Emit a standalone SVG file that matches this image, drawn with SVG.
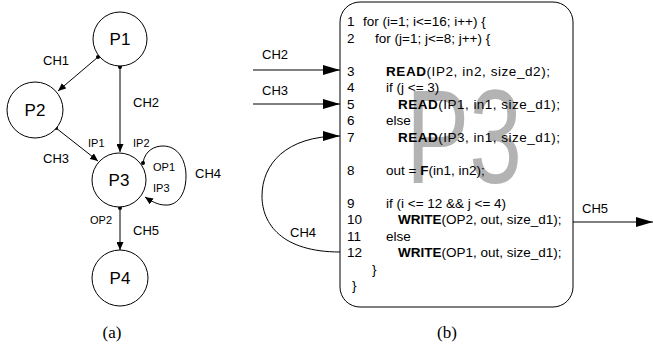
<svg xmlns="http://www.w3.org/2000/svg" width="653" height="350" viewBox="0 0 653 350">
<style>
text{font-family:"Liberation Sans",Arial,sans-serif;fill:#000}
.node{fill:#fff;stroke:#000;stroke-width:1}
.pl{font-size:17px;text-anchor:middle}
.ch{font-size:13px}
.pt{font-size:11px}
.cap{font-family:"Liberation Serif","Times New Roman",serif;font-size:17px;text-anchor:middle}
.code{font-size:13.5px}
.b{font-weight:bold}
.ln{fill:none;stroke:#000;stroke-width:1}
.sa{marker-end:url(#arrS)}
.la{marker-end:url(#arrL)}
</style>
<defs>
<marker id="arrS" markerUnits="userSpaceOnUse" markerWidth="9" markerHeight="7" refX="8" refY="3.5" orient="auto"><path d="M0,0 L8,3.5 L0,7 z" fill="#000"/></marker>
<marker id="arrL" markerUnits="userSpaceOnUse" markerWidth="18" markerHeight="11" refX="17" refY="5" orient="auto"><path d="M0,0 L17,5 L0,10 z" fill="#000"/></marker>
</defs>

<g id="connectors-a">
<path class="ln sa" d="M98,57 L58,91"/>
<path class="ln sa" d="M120,67 L120,152"/>
<path class="ln sa" d="M56,128 L98,161"/>
<path class="ln sa" d="M143,163 C145,150 155,146 163,146 C178,146 186,160 186,176 C186,196 176,206 165,205 C158,205 151,201 145,197"/>
<path class="ln sa" d="M120,208 L120,250"/>
<circle cx="98" cy="57" r="2" fill="#000"/>
<circle cx="120" cy="67" r="2" fill="#000"/>
<circle cx="56" cy="128" r="2" fill="#000"/>
<circle cx="143" cy="163" r="2" fill="#000"/>
<circle cx="120" cy="208" r="2" fill="#000"/>
</g>

<g id="P1"><circle class="node" cx="120" cy="39" r="27"/><text class="pl" x="120" y="45">P1</text></g>
<g id="P2"><circle class="node" cx="35" cy="110" r="28"/><text class="pl" x="35" y="116">P2</text></g>
<g id="P3"><circle class="node" cx="119" cy="180" r="27"/><text class="pl" x="119" y="186">P3</text></g>
<g id="P4"><circle class="node" cx="120" cy="278" r="28"/><text class="pl" x="120" y="284">P4</text></g>

<g id="labels-a">
<text class="ch" x="43" y="65">CH1</text>
<text class="ch" x="133" y="107">CH2</text>
<text class="ch" x="43" y="163">CH3</text>
<text class="ch" x="195" y="178">CH4</text>
<text class="ch" x="133" y="235">CH5</text>
<text class="pt" x="88" y="147">IP1</text>
<text class="pt" x="133" y="147">IP2</text>
<text class="pt" x="153" y="171">OP1</text>
<text class="pt" x="153" y="192">IP3</text>
<text class="pt" x="90" y="224">OP2</text>
<text class="cap" x="112" y="338">(a)</text>
</g>

<g id="process-box">
<rect x="340" y="2" width="233" height="305" rx="20" ry="20" fill="#fff" stroke="#000" stroke-width="1"/>
<text x="406" y="183" font-size="133" textLength="116" lengthAdjust="spacingAndGlyphs" style="fill:#b3b3b3">P3</text>
<g class="code">
<text x="347" y="26">1</text><text x="363" y="26">for (i=1; i&lt;=16; i++) {</text>
<text x="347" y="42.5">2</text><text x="375" y="42.5">for (j=1; j&lt;=8; j++) {</text>
<text x="347" y="75.5">3</text><text x="386" y="75.5" textLength="164" lengthAdjust="spacing"><tspan class="b">READ</tspan>(IP2, in2, size_d2);</text>
<text x="347" y="92">4</text><text x="386" y="92">if (j &lt;= 3)</text>
<text x="347" y="108.5">5</text><text x="398" y="108.5" textLength="162" lengthAdjust="spacing"><tspan class="b">READ</tspan>(IP1, in1, size_d1);</text>
<text x="347" y="125">6</text><text x="386" y="125">else</text>
<text x="347" y="141.5">7</text><text x="398" y="141.5" textLength="162" lengthAdjust="spacing"><tspan class="b">READ</tspan>(IP3, in1, size_d1);</text>
<text x="347" y="174.5">8</text><text x="386" y="174.5">out = <tspan class="b">F</tspan>(in1, in2);</text>
<text x="347" y="207.5">9</text><text x="386" y="207.5">if (i &lt;= 12 &amp;&amp; j &lt;= 4)</text>
<text x="347" y="224">10</text><text x="398" y="224"><tspan class="b">WRITE</tspan>(OP2, out, size_d1);</text>
<text x="347" y="240.5">11</text><text x="386" y="240.5">else</text>
<text x="347" y="257">12</text><text x="398" y="257"><tspan class="b">WRITE</tspan>(OP1, out, size_d1);</text>
<text x="372" y="273.5">}</text>
<text x="352" y="290">}</text>
</g>
</g>

<g id="connectors-b">
<path class="ln la" d="M253,70 L340,70"/>
<path class="ln la" d="M253,104 L340,104"/>
<path class="ln la" d="M340,252 C282,252 262,224 262,196 C262,164 286,136 340,136"/>
<path class="ln la" d="M573,222 L653,222"/>
<text class="ch" x="262" y="59" font-size="14">CH2</text>
<text class="ch" x="262" y="95" font-size="14">CH3</text>
<text class="ch" x="290" y="237" font-size="14">CH4</text>
<text class="ch" x="582" y="213" font-size="14">CH5</text>
<text class="cap" x="447" y="338">(b)</text>
</g>
</svg>
